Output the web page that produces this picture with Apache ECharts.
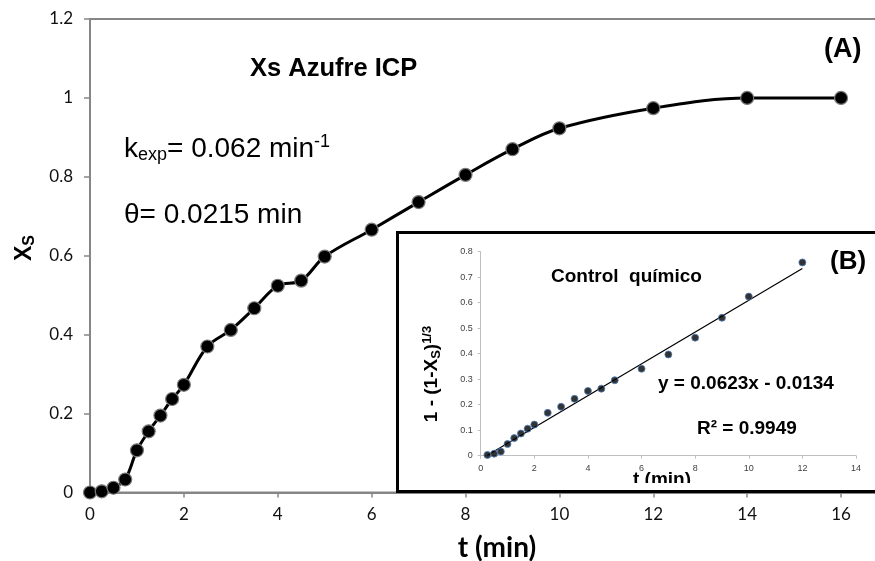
<!DOCTYPE html>
<html>
<head>
<meta charset="utf-8">
<script src="https://cdn.jsdelivr.net/npm/echarts@6/dist/echarts.min.js"></script>
<style>
html, body { margin: 0; padding: 0; overflow: hidden; background: #fff; }
#mainChart { position: absolute; left: 0; top: 0; width: 875px; height: 561px; }
#insetBox {
  position: absolute; left: 396px; top: 231px;
  width: 490px; height: 256px;
  border-top: 3px solid #000; border-left: 3px solid #000; border-bottom: 3px solid #000;
  background: #fff; overflow: hidden;
}
#insetChart { position: absolute; left: 0; top: 0; width: 476px; height: 249px; }
</style>
</head>
<body>
<div id="mainChart"></div>
<div id="insetBox"><div id="insetChart"></div></div>
<script>
// main curve: Xs vs t
var tMain = [0, 0.25, 0.5, 0.75, 1, 1.25, 1.5, 1.75, 2, 2.5, 3, 3.5, 4, 4.5, 5, 6, 7, 8, 9, 10, 12, 14, 16];
var xsMain = [0, 0.003, 0.012, 0.033, 0.107, 0.155, 0.195, 0.237, 0.273, 0.370, 0.412, 0.467, 0.524, 0.537, 0.598, 0.666, 0.736, 0.805, 0.870, 0.923, 0.974, 1.0, 1.0];

// inset: 1-(1-Xs)^(1/3) vs t
var tInset = [0.25, 0.5, 0.75, 1, 1.25, 1.5, 1.75, 2, 2.5, 3, 3.5, 4, 4.5, 5, 6, 7, 8, 9, 10, 12];
var yInset = [0.003, 0.008, 0.016, 0.046, 0.069, 0.087, 0.106, 0.122, 0.168, 0.192, 0.223, 0.254, 0.263, 0.296, 0.341, 0.397, 0.463, 0.541, 0.624, 0.758];

// excel trendline ends
var trendT = [0.25, 12];
var trendY = [0.002, 0.734];

var mainPts = [];
for (var i = 0; i < tMain.length; i++) mainPts.push([tMain[i], xsMain[i]]);
var insetPts = [];
for (var j = 0; j < tInset.length; j++) insetPts.push([tInset[j], yInset[j]]);
var trendPts = [[trendT[0], trendY[0]], [trendT[1], trendY[1]]];

var gray = "#868686";
var arial = "Liberation Sans, Arial, sans-serif";

var mainChart = echarts.init(document.getElementById("mainChart"));
mainChart.setOption({
  animation: false,
  grid: {
    left: 90, top: 19, width: 798, bottom: 68.5,
    outerBoundsMode: "none",
    show: true, borderColor: gray, borderWidth: 2
  },
  xAxis: {
    type: "value", min: 0, max: 17, interval: 2,
    axisLine: { lineStyle: { color: gray, width: 2 } },
    axisTick: { length: 5, lineStyle: { color: gray, width: 1.5 } },
    axisLabel: { fontSize: 17, color: "#111", fontFamily: "Lato", margin: 14, showMaxLabel: false },
    splitLine: { show: false }
  },
  yAxis: {
    type: "value", min: 0, max: 1.2, interval: 0.2,
    axisLine: { show: true, lineStyle: { color: gray, width: 2 } },
    axisTick: { show: true, length: 6, lineStyle: { color: gray, width: 1.5 } },
    axisLabel: { fontSize: 17, color: "#111", fontFamily: "Lato", margin: 17 },
    splitLine: { show: false }
  },
  series: [
    {
      type: "line",
      data: mainPts,
      smooth: 0.35,
      clip: false,
      symbol: "circle",
      symbolSize: 13,
      lineStyle: { color: "#000", width: 3 },
      itemStyle: { color: "#000", borderColor: "#7a7a7a", borderWidth: 1.2 }
    }
  ],
  graphic: [
    {
      type: "text", left: 250, top: 56,
      style: { text: "Xs Azufre ICP", font: "bold 25.5px " + arial, fill: "#000" }
    },
    {
      type: "text", x: 124, y: 149,
      style: {
        text: "{n|k}{sub|exp}{n|= 0.062 min}{sup|-1}",
        verticalAlign: "middle",
        rich: {
          n: { fontSize: 28, fontFamily: arial, fill: "#000" },
          sub: { fontSize: 18, fontFamily: arial, fill: "#000", padding: [13, 0, 0, 0] },
          sup: { fontSize: 18, fontFamily: arial, fill: "#000", padding: [0, 0, 13, 0] }
        }
      }
    },
    {
      type: "text", x: 124, y: 215,
      style: { text: "θ= 0.0215 min", font: "28px " + arial, fill: "#000", verticalAlign: "middle" }
    },
    {
      type: "text", x: 824, y: 50,
      style: { text: "(A)", font: "bold 27px " + arial, fill: "#000", verticalAlign: "middle" }
    },
    {
      type: "text", x: 25, y: 248, rotation: Math.PI / 2,
      style: {
        text: "{b|X}{s|S}",
        align: "center", verticalAlign: "middle",
        rich: {
          b: { fontSize: 23, fontWeight: "bold", fontFamily: arial, fill: "#000" },
          s: { fontSize: 16, fontWeight: "bold", fontFamily: arial, fill: "#000", padding: [9, 0, 0, 0] }
        }
      }
    },
    {
      type: "text", x: 497, y: 548,
      style: { text: "t (min)", font: "bold 28px Lato", fill: "#000", align: "center", verticalAlign: "middle" }
    }
  ]
});

var insetChart = echarts.init(document.getElementById("insetChart"));
insetChart.setOption({
  animation: false,
  grid: { left: 81.7, top: 17.7, width: 375.3, height: 204, outerBoundsMode: "none" },
  xAxis: {
    type: "value", min: 0, max: 14, interval: 2,
    axisLine: { lineStyle: { color: "#bfbfbf", width: 1 } },
    axisTick: { length: 3, lineStyle: { color: "#bfbfbf" } },
    axisLabel: { fontSize: 9, color: "#404040", fontFamily: arial, margin: 8 },
    splitLine: { show: false }
  },
  yAxis: {
    type: "value", min: 0, max: 0.8, interval: 0.1,
    axisLine: { show: true, lineStyle: { color: "#bfbfbf", width: 1 } },
    axisTick: { show: true, length: 3, lineStyle: { color: "#bfbfbf" } },
    axisLabel: { fontSize: 9, color: "#404040", fontFamily: arial, margin: 8 },
    splitLine: { show: false }
  },
  series: [
    {
      type: "line",
      data: trendPts,
      symbol: "none",
      lineStyle: { color: "#000", width: 1.2 },
      z: 1
    },
    {
      type: "scatter",
      data: insetPts,
      symbolSize: 7,
      itemStyle: { color: "#000", borderColor: "#4f81bd", borderWidth: 1 },
      z: 2
    }
  ],
  graphic: [
    {
      type: "text", x: 152, y: 43,
      style: { text: "Control  químico", font: "bold 19px " + arial, fill: "#000", verticalAlign: "middle" }
    },
    {
      type: "text", x: 431, y: 28,
      style: { text: "(B)", font: "bold 26px " + arial, fill: "#000", verticalAlign: "middle" }
    },
    {
      type: "text", x: 259, y: 150,
      style: { text: "y = 0.0623x - 0.0134", font: "bold 19px " + arial, fill: "#000", verticalAlign: "middle" }
    },
    {
      type: "text", x: 298, y: 195,
      style: { text: "R² = 0.9949", font: "bold 19px " + arial, fill: "#000", verticalAlign: "middle" }
    },
    {
      type: "text", x: 33, y: 140, rotation: Math.PI / 2,
      style: {
        text: "{b|1 - (1-X}{s|S}{b|)}{p|1/3}",
        align: "center", verticalAlign: "middle",
        rich: {
          b: { fontSize: 19, fontWeight: "bold", fontFamily: arial, fill: "#000" },
          s: { fontSize: 13, fontWeight: "bold", fontFamily: arial, fill: "#000", padding: [8, 0, 0, 0] },
          p: { fontSize: 13, fontWeight: "bold", fontFamily: arial, fill: "#000", padding: [0, 0, 9, 0] }
        }
      }
    },
    {
      type: "text", x: 263, y: 246,
      style: { text: "t (min)", font: "bold 19px " + arial, fill: "#000", align: "center", verticalAlign: "middle" }
    }
  ]
});
</script>
</body>
</html>
